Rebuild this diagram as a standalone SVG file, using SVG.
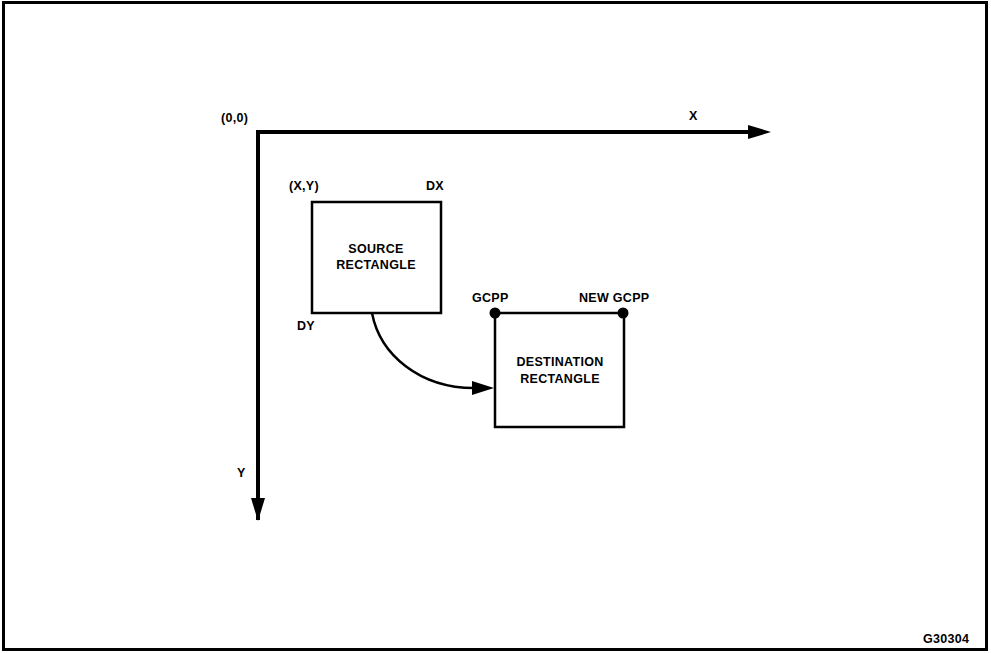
<svg xmlns="http://www.w3.org/2000/svg" width="991" height="653" viewBox="0 0 991 653">
<style>
text{font-family:"Liberation Sans",Arial,sans-serif;font-weight:bold;font-size:12.5px;fill:#000;letter-spacing:0.3px}
.box{fill:#fff;stroke:#000;stroke-width:2.5}
.axis{stroke:#000;stroke-width:4;fill:none}
</style>
<defs>
<marker id="ah" markerWidth="10" markerHeight="8" refX="9" refY="4" orient="auto" markerUnits="userSpaceOnUse"><path d="M0,0 L10,4 L0,8 Z" fill="#000"/></marker>
<marker id="big" markerWidth="22" markerHeight="14" refX="20" refY="7" orient="auto" markerUnits="userSpaceOnUse"><path d="M0,0 L22,7 L0,14 Z" fill="#000"/></marker>
</defs>
<rect x="3.5" y="2.5" width="983" height="647" fill="#fff" stroke="#000" stroke-width="3"/>
<g id="connectors">
<path class="axis" d="M258,520 V132 H752"/>
<path d="M748,125 L771,132 L748,139 Z" fill="#000"/>
<path d="M251,498 L258,521 L265,498 Z" fill="#000"/>
<path d="M372,313 C380,355 420,388 474,388" fill="none" stroke="#000" stroke-width="2.5"/>
<path d="M472,381 L494,388 L472,395 Z" fill="#000"/>
</g>
<g id="axis-labels">
<text x="221" y="122">(0,0)</text>
<text x="689" y="120">X</text>
<text x="237" y="477">Y</text>
</g>
<g id="source">
<rect class="box" x="312" y="202" width="129" height="111"/>
<text x="289" y="190">(X,Y)</text>
<text x="426" y="190">DX</text>
<text x="297" y="330">DY</text>
<text x="376" y="253" text-anchor="middle">SOURCE</text>
<text x="376" y="269" text-anchor="middle">RECTANGLE</text>
</g>
<g id="destination">
<rect class="box" x="495" y="313" width="129" height="114"/>
<circle cx="495" cy="313" r="5.5" fill="#000"/>
<circle cx="623" cy="313" r="5.5" fill="#000"/>
<text x="472" y="302">GCPP</text>
<text x="579" y="302">NEW GCPP</text>
<text x="560" y="366" text-anchor="middle">DESTINATION</text>
<text x="560" y="383" text-anchor="middle">RECTANGLE</text>
</g>
<text x="923" y="643">G30304</text>
</svg>
